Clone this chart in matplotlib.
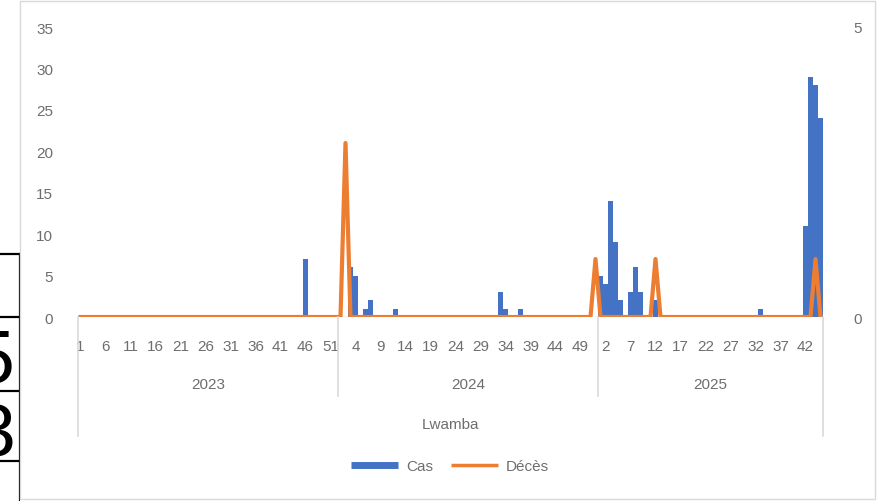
import matplotlib.pyplot as plt
from matplotlib.lines import Line2D
from matplotlib.patches import Rectangle
from matplotlib.transforms import blended_transform_factory

# données hebdomadaires (semaines non listées = 0)
years = ['2023', '2024', '2025']
n_weeks = [52, 52, 45]
cas_2023 = {46: 7}
cas_2024 = {3: 6, 4: 5, 6: 1, 7: 2, 12: 1, 33: 3, 34: 1, 37: 1}
cas_2025 = {1: 5, 2: 4, 3: 14, 4: 9, 5: 2, 7: 3, 8: 6, 9: 3, 12: 2, 33: 1,
            42: 11, 43: 29, 44: 28, 45: 24}
deces_2023 = {}
deces_2024 = {2: 3, 52: 1}
deces_2025 = {12: 1, 44: 1}
district = 'Lwamba'

BLUE = '#4472C4'
ORANGE = '#ED7D31'
GREY = '#6E6E6E'

plt.rcParams['font.family'] = ['Liberation Sans', 'DejaVu Sans']

cas, deces, weeks = [], [], []
for n, c, d in zip(n_weeks, [cas_2023, cas_2024, cas_2025],
                   [deces_2023, deces_2024, deces_2025]):
    for w in range(1, n + 1):
        weeks.append(w)
        cas.append(c.get(w, 0))
        deces.append(d.get(w, 0))
x = list(range(1, len(weeks) + 1))

fig = plt.figure(figsize=(8.84, 5.02), dpi=100)
W, H = 884, 502
ax = fig.add_axes([78 / W, 1 - 318 / H, 745 / W, 290 / H])
ax2 = ax.twinx()

ax.bar(x, cas, width=0.85, color=BLUE, zorder=2)
ax2.plot(x, deces, color=ORANGE, lw=3, solid_joinstyle='round', zorder=3)

ax.set_xlim(0.5, len(x) + 0.5)
ax.set_ylim(0, 35)
ax.set_yticks(range(0, 36, 5))
ax2.set_ylim(0, 5)
ax2.set_yticks([0, 5])
ax.set_xticks(x[::5])
ax.set_xticklabels([str(weeks[i - 1]) for i in x[::5]])

for a in (ax, ax2):
    for s in a.spines.values():
        s.set_visible(False)
ax.tick_params(axis='x', length=0, pad=16, labelsize=11, labelcolor=GREY)
ax.tick_params(axis='y', length=0, pad=18, labelsize=11, labelcolor=GREY)
ax2.tick_params(axis='y', length=0, pad=22, labelsize=11, labelcolor=GREY)
ax.axhline(0, color='#D9D9D9', lw=1, zorder=1)

# axe de catégories à plusieurs niveaux
tr = blended_transform_factory(ax.transData, fig.transFigure)
bounds = [0.5]
for n in n_weeks:
    bounds.append(bounds[-1] + n)
for i, b in enumerate(bounds):
    y_end = 1 - (437 if i in (0, len(bounds) - 1) else 397) / H
    fig.add_artist(Line2D([b, b], [1 - 318 / H, y_end], transform=tr,
                          color='#D9D9D9', lw=1.2))
for i, yr in enumerate(years):
    ax.text((bounds[i] + bounds[i + 1]) / 2, 1 - 385 / H, yr, transform=tr,
            ha='center', va='center', fontsize=11, color=GREY)
ax.text((bounds[0] + bounds[-1]) / 2, 1 - 425 / H, district, transform=tr,
        ha='center', va='center', fontsize=11, color=GREY)

handles = [Line2D([], [], color=BLUE, lw=5, solid_capstyle='butt'),
           Line2D([], [], color=ORANGE, lw=2.5, solid_capstyle='butt')]
fig.legend(handles, ['Cas', 'Décès'], loc='center', bbox_to_anchor=(450 / W, 1 - 467 / H),
           ncol=2, frameon=False, fontsize=11, handlelength=3.1, columnspacing=1.2,
           handletextpad=0.5, labelcolor=GREY)

# cadre du graphique
fig.add_artist(Rectangle((20 / W, 2 / H), 855 / W, 498 / H, transform=fig.transFigure,
                         fill=False, edgecolor='#D9D9D9', lw=1))

# fragment du tableau à gauche (coupé comme dans l'original)
side = fig.add_axes([0, 0, 20 / W, 1])
side.set_xlim(0, 20)
side.set_ylim(H, 0)
side.axis('off')
for yy in [255, 318, 392, 462]:
    side.plot([0, 20], [yy, yy], color='black', lw=1.6)
side.plot([19.5, 19.5], [255, H], color='black', lw=1.6)
side.text(15, 383, '5', ha='right', va='baseline', fontsize=54, clip_on=True)
side.text(15, 457, '3', ha='right', va='baseline', fontsize=54, clip_on=True)

fig.savefig('out.png', dpi=100)
